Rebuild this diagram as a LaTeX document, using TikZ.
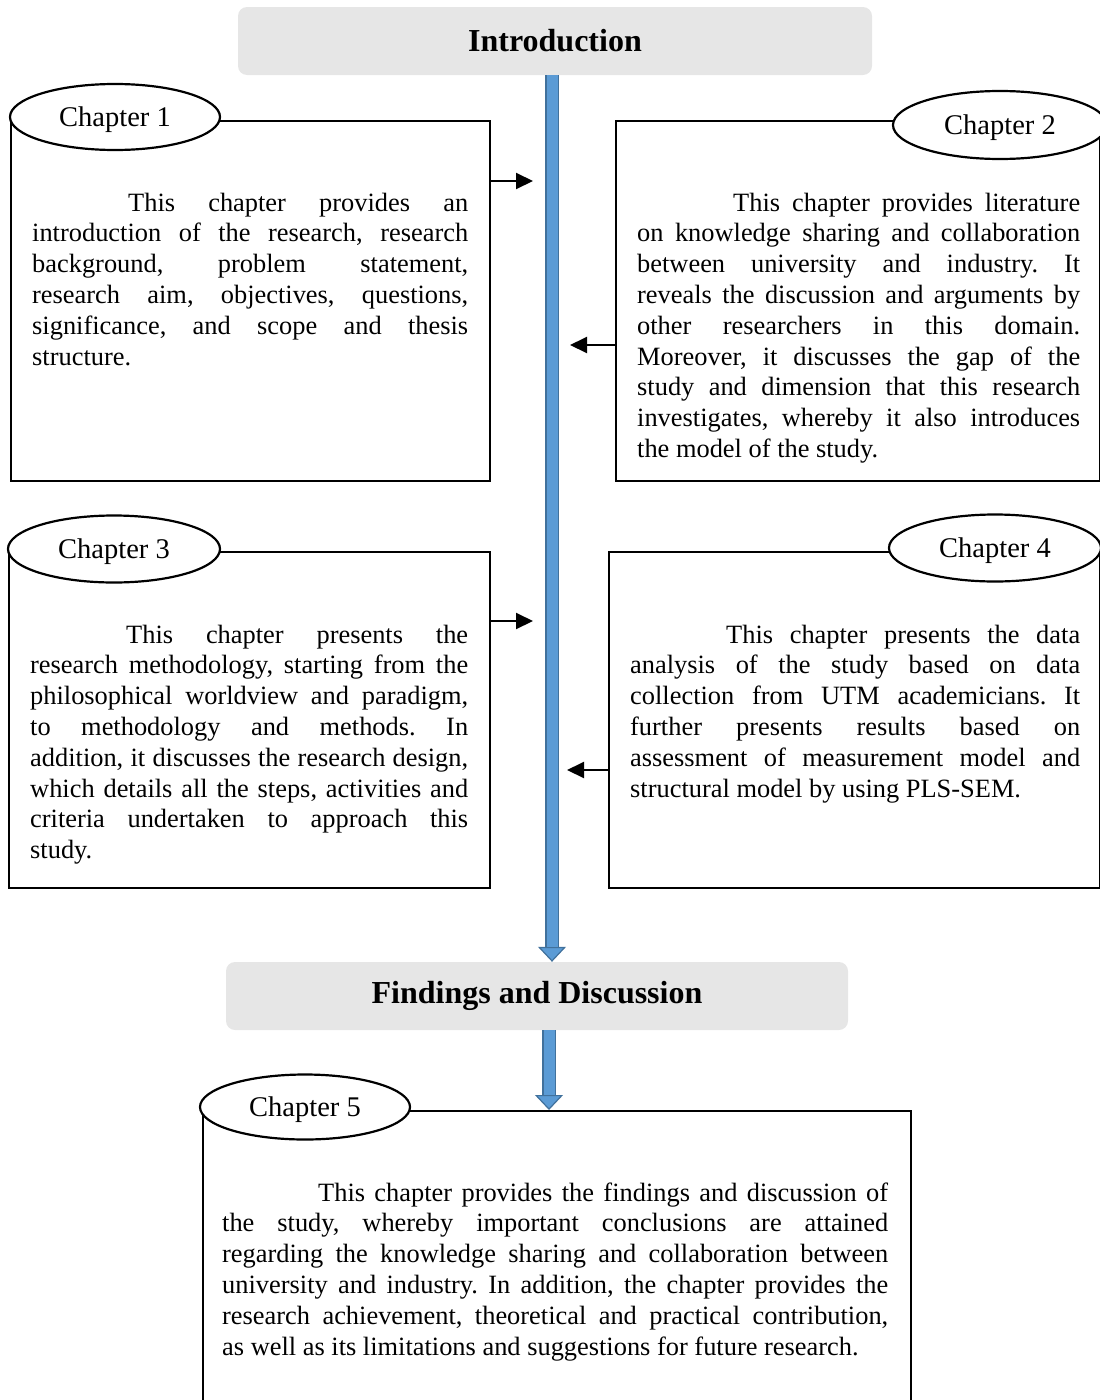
\documentclass[tikz,border=0pt]{standalone}
\usepackage{fontspec}
\setmainfont{Liberation Serif}
\usetikzlibrary{arrows.meta, calc, shapes.geometric}
\definecolor{bargray}{HTML}{E6E6E6}
\definecolor{shaftblue}{HTML}{5B9BD5}
\definecolor{shaftedge}{HTML}{41719C}
\frenchspacing

\begin{document}
\begin{tikzpicture}[x=1pt, y=-1pt, line join=miter,
	bar/.style={fill=bargray, rounded corners=9pt, minimum height=68pt, inner sep=0pt,
		font=\fontsize{32}{36}\selectfont\bfseries},
	chapbox/.style={draw, line width=1.6pt, anchor=north west, inner sep=0pt},
	chaptag/.style={ellipse, draw, fill=white, line width=2.2pt, minimum width=212pt,
		minimum height=66pt, inner sep=0pt, text depth=0pt, font=\fontsize{28.5}{32}\selectfont},
	chaptext/.style={anchor=base west, inner sep=0pt, align=justify,
		font=\fontsize{26.4}{30.8}\selectfont},
	side/.style={line width=2pt, -{Triangle[length=17pt,width=16pt]}},
	shaft/.style={draw=shaftedge, line width=14pt,
		-{Triangle[length=15pt,width=28pt,line width=1.2pt,fill=shaftblue]},
		postaction={draw=shaftblue, line width=11pt, shorten >=15pt, -}}]
	
	\useasboundingbox (0,0) rectangle (1100,1400);
	\clip (0,0) rectangle (1100,1400);
	
	% ===== Headings =====
	\node[bar, minimum width=634pt] (intro) at (555,41) {Introduction};
	\node[bar, minimum width=622pt] (find) at (537,996) {Findings and Discussion};
	
	% ===== Chapter frames =====
	\node[chapbox, minimum width=479pt, minimum height=360pt] (c1box) at (10,120) {};
	\node[chapbox, minimum width=484pt, minimum height=360pt] (c2box) at (615,120) {};
	\node[chapbox, minimum width=481pt, minimum height=336pt] (c3box) at (8,551) {};
	\node[chapbox, minimum width=491pt, minimum height=336pt] (c4box) at (608,551) {};
	\node[chapbox, minimum width=708pt, minimum height=320pt] (c5box) at (202,1110) {};
	
	% chapter tags sit on the top left / top right corners
	\node[chaptag, minimum width=210pt] (c1tag) at (115,117) {Chapter 1};
	\node[chaptag, minimum width=214pt, minimum height=68pt] (c2tag) at (1000,125) {Chapter 2};
	\node[chaptag, minimum height=67pt] (c3tag) at (114,549) {Chapter 3};
	\node[chaptag, minimum height=67pt] (c4tag) at (995,548) {Chapter 4};
	\node[chaptag, minimum width=210pt, minimum height=65pt] (c5tag) at (305,1107) {Chapter 5};
	
	% ===== Chapter summaries =====
	\node[chaptext, text width=436pt] (c1text) at (32,211)
	{\hspace*{96pt}This chapter provides an\linebreak
		introduction of the research, research\linebreak
		background, problem statement,\linebreak
		research aim, objectives, questions,\linebreak
		significance, and scope and thesis\linebreak
		structure.};
	\node[chaptext, text width=443pt] (c2text) at (637,211)
	{\hspace*{96pt}This chapter provides literature\linebreak
		on knowledge sharing and collaboration\linebreak
		between university and industry. It\linebreak
		reveals the discussion and arguments by\linebreak
		other researchers in this domain.\linebreak
		Moreover, it discusses the gap of the\linebreak
		study and dimension that this research\linebreak
		investigates, whereby it also introduces\linebreak
		the model of the study.};
	\node[chaptext, text width=438pt] (c3text) at (30,643)
	{\hspace*{96pt}This chapter presents the\linebreak
		research methodology, starting from the\linebreak
		philosophical worldview and paradigm,\linebreak
		to methodology and methods. In\linebreak
		addition, it discusses the research design,\linebreak
		which details all the steps, activities and\linebreak
		criteria undertaken to approach this\linebreak
		study.};
	\node[chaptext, text width=450pt] (c4text) at (630,643)
	{\hspace*{96pt}This chapter presents the data\linebreak
		analysis of the study based on data\linebreak
		collection from UTM academicians. It\linebreak
		further presents results based on\linebreak
		assessment of measurement model and\linebreak
		structural model by using PLS-SEM.};
	\node[chaptext, text width=666pt] (c5text) at (222,1201)
	{\hspace*{96pt}This chapter provides the findings and discussion of\linebreak
		the study, whereby important conclusions are attained\linebreak
		regarding the knowledge sharing and collaboration between\linebreak
		university and industry. In addition, the chapter provides the\linebreak
		research achievement, theoretical and practical contribution,\linebreak
		as well as its limitations and suggestions for future research.};
	
	% ===== Side arrows into the main line =====
	\coordinate (a1) at (533,181);
	\coordinate (a2) at (570,345);
	\coordinate (a3) at (533,621);
	\coordinate (a4) at (567,770);
	\draw[side] (c1box.east |- a1) -- (a1);
	\draw[side] (c2box.west |- a2) -- (a2);
	\draw[side] (c3box.east |- a3) -- (a3);
	\draw[side] (c4box.west |- a4) -- (a4);
	
	% ===== Main flow =====
	\coordinate (s1) at (552,0);
	\coordinate (s2) at (549,0);
	\draw[shaft] (intro.south -| s1) -- (find.north -| s1);
	\draw[shaft] (find.south -| s2) -- (c5box.north -| s2);
	
\end{tikzpicture}
\end{document}
